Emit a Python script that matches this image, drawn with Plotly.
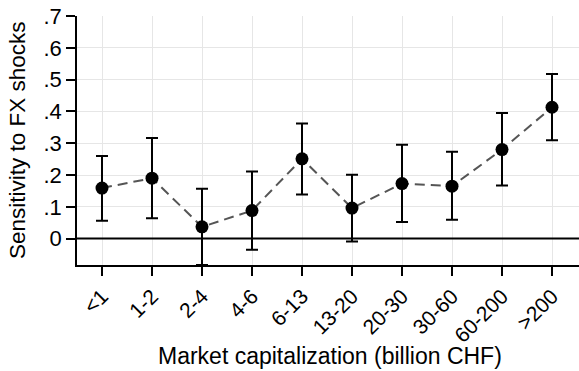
import plotly.graph_objects as go

categories = ["<1", "1-2", "2-4", "4-6", "6-13", "13-20", "20-30", "30-60", "60-200", ">200"]
estimates = [0.159, 0.190, 0.037, 0.088, 0.251, 0.096, 0.173, 0.165, 0.280, 0.413]
ci_upper = [0.260, 0.316, 0.157, 0.211, 0.362, 0.201, 0.295, 0.273, 0.395, 0.518]
ci_lower = [0.056, 0.064, -0.083, -0.035, 0.139, -0.009, 0.052, 0.059, 0.167, 0.309]
y_ticks = [0, 0.1, 0.2, 0.3, 0.4, 0.5, 0.6, 0.7]
y_ticklabels = ["0", ".1", ".2", ".3", ".4", ".5", ".6", ".7"]

xpos = list(range(1, len(categories) + 1))
err_plus = [u - e for u, e in zip(ci_upper, estimates)]
err_minus = [e - l for e, l in zip(estimates, ci_lower)]

fig = go.Figure()
fig.add_trace(go.Scatter(
    x=xpos, y=estimates, mode="lines",
    line=dict(color="#555555", width=2, dash="10px,6px"),
    hoverinfo="skip", showlegend=False,
))
fig.add_trace(go.Scatter(
    x=xpos, y=estimates, mode="markers",
    marker=dict(color="black", size=13),
    error_y=dict(type="data", symmetric=False, array=err_plus, arrayminus=err_minus,
                 color="black", thickness=2, width=6),
    showlegend=False,
))
fig.add_hline(y=0, line=dict(color="black", width=2))

font = "Liberation Sans, Arial, sans-serif"
fig.update_layout(
    width=579, height=371,
    margin=dict(l=77, r=0, t=16, b=106, autoexpand=False),
    plot_bgcolor="white", paper_bgcolor="white",
    font=dict(family=font, color="black", size=20),
    xaxis=dict(
        range=[0.5, 10.54], tickmode="array", tickvals=xpos, ticktext=categories,
        tickangle=-45, ticks="outside", ticklen=9, tickwidth=1.5, tickcolor="black",
        showline=True, linecolor="black", linewidth=1.5,
        showgrid=True, gridcolor="#e6e6e6", gridwidth=1, zeroline=False,
        automargin=False, tickfont=dict(size=21),
    ),
    yaxis=dict(
        range=[-0.083, 0.7], tickmode="array", tickvals=y_ticks, ticktext=y_ticklabels,
        ticks="outside", ticklen=9, tickwidth=1.5, tickcolor="black",
        showline=True, linecolor="black", linewidth=1.5,
        showgrid=True, gridcolor="#e6e6e6", gridwidth=1, zeroline=False,
        automargin=False, tickfont=dict(size=22),
    ),
    annotations=[
        dict(text="Market capitalization (billion CHF)", xref="paper", yref="paper",
             x=(330 - 77) / 502, y=-(356 - 265) / 249, xanchor="center", yanchor="middle",
             showarrow=False, font=dict(size=23)),
        dict(text="Sensitivity to FX shocks", xref="paper", yref="paper",
             x=-(77 - 17) / 502, y=(265 - 140) / 249, xanchor="center", yanchor="middle",
             textangle=-90, showarrow=False, font=dict(size=22.5)),
    ],
)
fig.write_html("out.html", config={"displayModeBar": False},
               post_script="document.body.style.margin='0';document.body.style.overflow='hidden';")
